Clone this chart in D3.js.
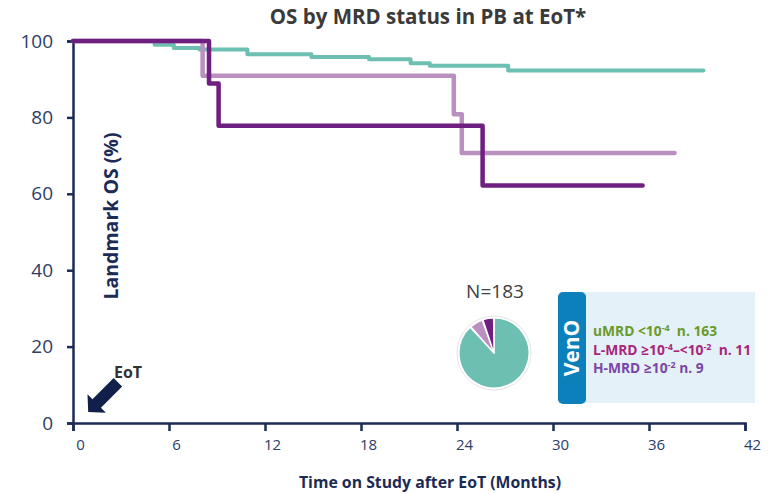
<!DOCTYPE html>
<html>
<head>
<meta charset="utf-8">
<script src="https://cdn.jsdelivr.net/npm/d3@7"></script>
<style>
  body { margin: 0; background: #fff; }
  svg text { font-family: "Open Sans", Lato, sans-serif; }
</style>
</head>
<body>
<svg width="768" height="494"></svg>
<script>
// KM step data (months, % alive)
var uMrdTime = [0, 5.1, 6.3, 7.9, 10.9, 14.9, 18.5, 21.1, 22.3, 27.2, 39.4];
var uMrdOS = [100, 99.0, 98.2, 97.8, 96.5, 95.8, 95.2, 94.2, 93.5, 92.3, 92.3];
var lMrdTime = [0, 8.1, 23.8, 24.3, 37.6];
var lMrdOS = [100, 90.9, 80.8, 70.7, 70.7];
var hMrdTime = [0, 8.5, 9.1, 25.6, 35.6];
var hMrdOS = [100, 88.9, 77.8, 62.2, 62.2];

var xTicks = [0, 6, 12, 18, 24, 30, 36, 42];
var yTicks = [0, 20, 40, 60, 80, 100];

var groupNames = ['uMRD', 'L-MRD', 'H-MRD'];
var groupCounts = [163, 11, 9];
var groupColors = ['#6dbfb1', '#b990c0', '#6e1f80'];
var legendColors = ['#6a9a2a', '#a8257e', '#7a45a8'];

var navy = '#1c2b55';
var svg = d3.select('svg');

var x = d3.scaleLinear().domain([0, 42]).range([73, 745]);
var y = d3.scaleLinear().domain([0, 100]).range([423, 41]);

// title
svg.append('text')
    .attr('x', 428).attr('y', 24)
    .attr('text-anchor', 'middle')
    .attr('font-size', 20.5).attr('font-weight', 'bold')
    .attr('fill', '#3a3a3a')
    .text('OS by MRD status in PB at EoT*');

// axes
var yAxis = svg.append('g')
    .attr('transform', 'translate(73,0)')
    .call(d3.axisLeft(y).tickValues(yTicks).tickSize(6).tickPadding(14));
var xAxis = svg.append('g')
    .attr('transform', 'translate(0,423)')
    .call(d3.axisBottom(x).tickValues(xTicks).tickSize(8).tickPadding(8));

[xAxis, yAxis].forEach(function (g) {
    g.select('.domain').attr('stroke', navy).attr('stroke-width', 2.5);
    g.selectAll('.tick line').attr('stroke', navy).attr('stroke-width', 2.5);
    g.selectAll('.tick text').attr('fill', '#2c3d66').attr('font-family', 'Lato, sans-serif');
});
yAxis.selectAll('.tick text').attr('font-size', 19);
xAxis.selectAll('.tick text').attr('font-size', 15).attr('dx', 7);

svg.append('text')
    .attr('x', 430).attr('y', 488)
    .attr('text-anchor', 'middle')
    .attr('font-size', 15.8).attr('font-weight', 'bold')
    .attr('fill', navy)
    .text('Time on Study after EoT (Months)');

svg.append('text')
    .attr('transform', 'translate(118,216) rotate(-90)')
    .attr('text-anchor', 'middle')
    .attr('font-size', 19.5).attr('font-weight', 'bold')
    .attr('fill', navy)
    .text('Landmark OS (%)');

// survival curves
var line = d3.line()
    .x(function (d) { return x(d[0]); })
    .y(function (d) { return y(d[1]); })
    .curve(d3.curveStepAfter);

var curves = [
    d3.zip(uMrdTime, uMrdOS),
    d3.zip(lMrdTime, lMrdOS),
    d3.zip(hMrdTime, hMrdOS)
];

svg.selectAll('path.km')
    .data(curves)
    .enter()
    .append('path')
    .attr('class', 'km')
    .attr('d', line)
    .attr('fill', 'none')
    .attr('stroke', function (d, i) { return groupColors[i]; })
    .attr('stroke-width', function (d, i) { return i === 0 ? 4 : 4.5; })
    .attr('stroke-linecap', 'round')
    .attr('stroke-linejoin', 'round');

// EoT arrow
var ax = x(0.95), ay = y(2.9);
svg.append('path')
    .attr('transform', 'translate(' + ax + ',' + ay + ') rotate(-45)')
    .attr('d', 'M0,0 L12,-13 L12,-6 L42,-6 L42,6 L12,6 L12,13 Z')
    .attr('fill', '#10204a');
svg.append('text')
    .attr('x', 114).attr('y', 378)
    .attr('font-size', 16).attr('font-weight', 'bold')
    .attr('fill', '#333')
    .text('EoT');

// pie
var pie = d3.pie().sort(null).padAngle(0.03);
var arc = d3.arc().innerRadius(0).outerRadius(35);
var pieG = svg.append('g').attr('transform', 'translate(494,353)');
pieG.append('circle').attr('r', 37).attr('fill', '#fff')
    .attr('stroke', '#e4e4e4').attr('stroke-width', 1);
pieG.selectAll('path')
    .data(pie(groupCounts))
    .enter()
    .append('path')
    .attr('d', arc)
    .attr('fill', function (d, i) { return groupColors[i]; })
    .attr('stroke', '#fff')
    .attr('stroke-width', 1.2);
svg.append('text')
    .attr('x', 495).attr('y', 298)
    .attr('text-anchor', 'middle')
    .attr('font-size', 19)
    .attr('font-family', 'Lato, sans-serif')
    .attr('fill', '#404040')
    .text('N=' + d3.sum(groupCounts));

// legend box
svg.append('rect')
    .attr('x', 560).attr('y', 292).attr('width', 195).attr('height', 111)
    .attr('fill', '#e4f1f8');
svg.append('rect')
    .attr('x', 558).attr('y', 292).attr('width', 28).attr('height', 112)
    .attr('rx', 5)
    .attr('fill', '#0b80bb');
svg.append('text')
    .attr('transform', 'translate(579,348) rotate(-90)')
    .attr('text-anchor', 'middle')
    .attr('font-size', 21).attr('font-weight', 'bold')
    .attr('fill', '#fff')
    .text('VenO');

var legendRows = [
    [['uMRD <10', ''], ['-4', 'sup'], ['  n. ' + groupCounts[0], '']],
    [['L-MRD \u226510', ''], ['-4', 'sup'], ['\u2013<10', ''], ['-2', 'sup'], ['  n. ' + groupCounts[1], '']],
    [['H-MRD \u226510', ''], ['-2', 'sup'], [' n. ' + groupCounts[2], '']]
];
legendRows.forEach(function (row, i) {
    var t = svg.append('text')
        .attr('x', 593).attr('y', 336 + i * 18.5)
        .attr('font-size', 13.8).attr('font-weight', 'bold')
        .attr('fill', legendColors[i])
        .attr('xml:space', 'preserve');
    row.forEach(function (part) {
        var s = t.append('tspan').text(part[0]);
        if (part[1] === 'sup') {
            s.attr('font-size', 9).attr('dy', -5);
        } else if (t.selectAll('tspan').size() > 1) {
            s.attr('dy', 5);
        }
    });
});
</script>
</body>
</html>
